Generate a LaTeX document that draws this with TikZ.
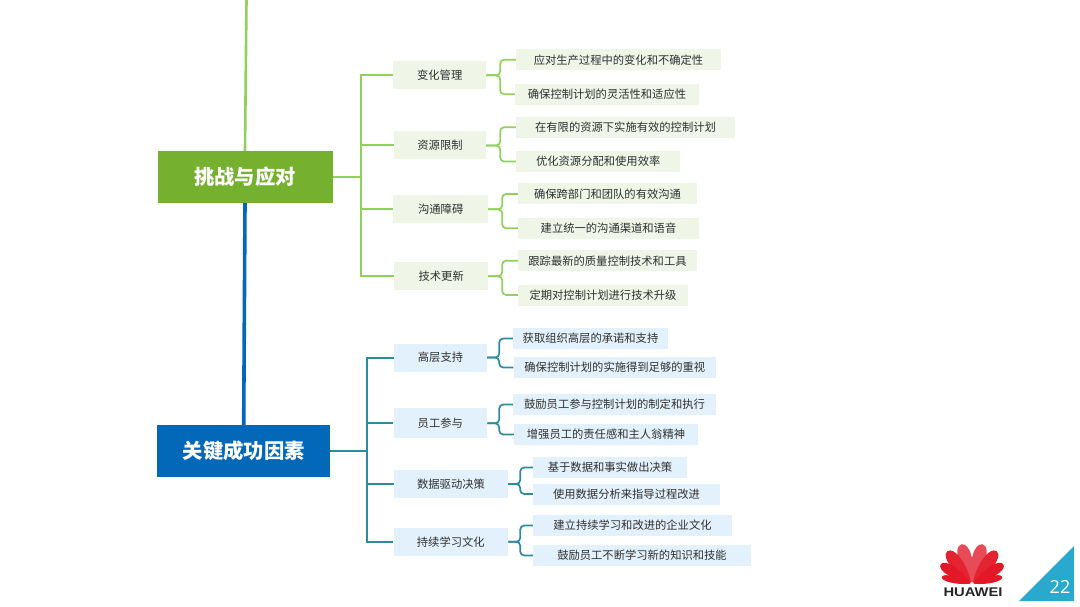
\documentclass[tikz,border=0pt]{standalone}
\usepackage{fontspec}
\setmainfont{Noto Sans CJK SC}
\newfontfamily\latinsans{Open Sans}
\newfontfamily\logosans{Liberation Sans}
\usepackage{xcolor}
\usetikzlibrary{positioning}
\definecolor{chalgreen}{RGB}{118,176,47}
\definecolor{challine}{RGB}{146,208,92}
\definecolor{chalfill}{RGB}{239,246,232}
\definecolor{succblue}{RGB}{4,104,184}
\definecolor{succline}{RGB}{46,139,158}
\definecolor{succfill}{RGB}{226,241,251}
\definecolor{inktext}{RGB}{48,48,48}
\definecolor{pagecyan}{RGB}{42,169,207}
\definecolor{logored}{RGB}{226,24,38}
\tikzset{
    rootbox/.style={inner sep=0pt, text=white, font=\fontsize{20.3}{24}\selectfont\bfseries},
    midbox/.style={inner sep=0pt, text=inktext, font=\fontsize{11.3}{13}\selectfont, minimum height=28pt},
    leafbox/.style={inner sep=0pt, text=inktext, font=\fontsize{11.3}{13}\selectfont, minimum height=21pt},
    chalmid/.style={midbox, fill=chalfill},
    challeaf/.style={leafbox, fill=chalfill},
    succmid/.style={midbox, fill=succfill},
    succleaf/.style={leafbox, fill=succfill},
    chalbrace/.style={challine, line width=1.7pt, rounded corners=4pt},
    succbrace/.style={succline, line width=1.7pt, rounded corners=4pt},
    chalspine/.style={challine, line width=2pt},
    succspine/.style={succline, line width=2pt}
}

\begin{document}
\begin{tikzpicture}[x=1pt, y=-1pt]
    \useasboundingbox (0,0) rectangle (1080,607);
    \fill[white] (0,0) rectangle (1080,607);

    % --- Root nodes ---
    \coordinate (trunktop) at (246.5,0);
    \node[rootbox, fill=chalgreen, minimum width=175pt, minimum height=52pt] (chalroot) at (245,177) {挑战与应对};
    \node[rootbox, fill=succblue, minimum width=172.5pt, minimum height=52pt] (succroot) at (243.7,451) {关键成功因素};

    % Trunk
    \draw[challine, line width=2.6pt] (trunktop) -- (chalroot.north);
    \draw[succblue, line width=3.6pt] (chalroot.south) -- (succroot.north);

    % --- Upper branch ---
    \node[chalmid, minimum width=92.5pt] (midchange) at (439.7,75.3) {变化管理};
    \node[chalmid, minimum width=92pt] (midres) at (440,145.5) {资源限制};
    \node[chalmid, minimum width=94.5pt] (midcomm) at (440.7,209.3) {沟通障碍};
    \node[chalmid, minimum width=93.5pt] (midtech) at (441.2,276.2) {技术更新};

    \node[challeaf, minimum width=205pt] (leafa) at (618.5,59.7) {应对生产过程中的变化和不确定性};
    \node[challeaf, minimum width=184pt] (leafb) at (607,94.2) {确保控制计划的灵活性和适应性};
    \node[challeaf, minimum width=219pt] (leafc) at (625.5,127.2) {在有限的资源下实施有效的控制计划};
    \node[challeaf, minimum width=164.5pt] (leafd) at (598.2,161.5) {优化资源分配和使用效率};
    \node[challeaf, minimum width=179pt] (leafe) at (607.5,194) {确保跨部门和团队的有效沟通};
    \node[challeaf, minimum width=181pt] (leaff) at (608.5,228.2) {建立统一的沟通渠道和语音};
    \node[challeaf, minimum width=179pt] (leafg) at (607.5,260.7) {跟踪最新的质量控制技术和工具};
    \node[challeaf, minimum width=170pt] (leafh) at (603,295) {定期对控制计划进行技术升级};

    % Spine, one elbow per topic
    \foreach \mid in {midchange,midres,midcomm,midtech}{
        \draw[chalspine] (chalroot.east) -- ++(28.5,0) |- (\mid.west);
    }

    % Braces
    \foreach \mid/\leaf in {midchange/leafa,midchange/leafb,midres/leafc,midres/leafd,
        midcomm/leafe,midcomm/leaff,midtech/leafg,midtech/leafh}{
        \draw[chalbrace] (\mid.east) -- ++(14,0) |- (\leaf.west);
    }

    % --- Lower branch ---
    \node[succmid, minimum width=93pt] (midtop) at (440.5,357.5) {高层支持};
    \node[succmid, minimum width=93.5pt, minimum height=30pt] (midstaff) at (440.3,423.3) {员工参与};
    \node[succmid, minimum width=114pt] (middata) at (451,484) {数据驱动决策};
    \node[succmid, minimum width=114.5pt] (midlearn) at (450.8,541.8) {持续学习文化};

    \node[succleaf, minimum width=155pt] (leafi) at (590.5,338.5) {获取组织高层的承诺和支持};
    \node[succleaf, minimum width=202.5pt] (leafj) at (614.8,367.5) {确保控制计划的实施得到足够的重视};
    \node[succleaf, minimum width=203pt] (leafk) at (614.5,404.5) {鼓励员工参与控制计划的制定和执行};
    \node[succleaf, minimum width=184pt] (leafl) at (606,434.5) {增强员工的责任感和主人翁精神};
    \node[succleaf, minimum width=154pt] (leafm) at (610,467.5) {基于数据和事实做出决策};
    \node[succleaf, minimum width=187pt] (leafn) at (626.5,494) {使用数据分析来指导过程改进};
    \node[succleaf, minimum width=199pt] (leafo) at (632.5,525.5) {建立持续学习和改进的企业文化};
    \node[succleaf, minimum width=218pt] (leafp) at (642,555.5) {鼓励员工不断学习新的知识和技能};

    % Spine, one elbow per topic
    \foreach \mid in {midtop,midstaff,middata,midlearn}{
        \draw[succspine] (succroot.east) -- ++(36.5,0) |- (\mid.west);
    }

    % Braces
    \foreach \mid/\leaf in {midtop/leafi,midtop/leafj,midstaff/leafk,midstaff/leafl}{
        \draw[succbrace] (\mid.east) -- ++(12,0) |- (\leaf.west);
    }
    \foreach \mid/\leaf in {middata/leafm,middata/leafn,midlearn/leafo,midlearn/leafp}{
        \draw[succbrace] (\mid.east) -- ++(12,0) |- (\leaf.west);
    }

    % --- Logo and page number ---
    \foreach \ang/\len/\wid/\tint in {-15/41/9/78,15/41/9/78,-37/41/8.5/95,37/41/8.5/95,
        -58/37/7/100,58/37/7/100,-77/31/4.5/100,77/31/4.5/100}{
        \begin{scope}[shift={(972,584)}, rotate=\ang]
            \fill[logored!\tint!white] (0,-1.5) .. controls (-\wid,-0.45*\len) and (-\wid,-\len) .. (0,-\len)
                .. controls (\wid,-\len) and (\wid,-0.45*\len) .. (0,-1.5);
        \end{scope}
    }
    \node[inner sep=0pt, text=black!85, xscale=1.17, transform shape, font=\logosans\fontsize{12.6}{14}\selectfont\bfseries] (logotext) at (973,592.5) {HUAWEI};

    \fill[pagecyan] (1019,601) -- (1074,546) -- (1074,601) -- cycle;
    \node[inner sep=0pt, text=white, font=\latinsans\fontsize{18}{20}\selectfont] (pagenum) at (1060,586.5) {22};
\end{tikzpicture}
\end{document}
